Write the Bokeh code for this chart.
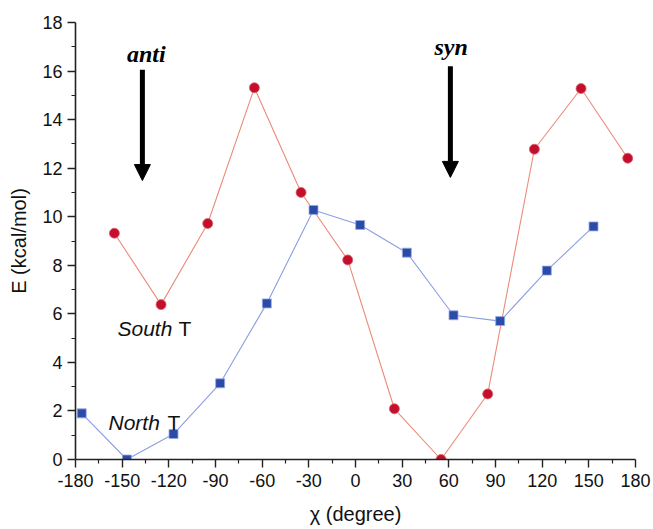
from bokeh.plotting import figure
from bokeh.models import ColumnDataSource, FixedTicker, Arrow, NormalHead
from bokeh.core.properties import value
from bokeh.embed import file_html
from bokeh.resources import INLINE

# ---- data ----
south_chi = [-155, -125, -95, -65, -35, -5, 25, 55, 85, 115, 145, 175]
south_E = [9.32, 6.38, 9.72, 15.31, 11.0, 8.22, 2.09, 0.0, 2.70, 12.78, 15.28, 12.41]
north_chi = [-176, -147, -117, -87, -57, -27, 3, 33, 63, 93, 123, 153]
north_E = [1.90, 0.0, 1.05, 3.14, 6.43, 10.28, 9.66, 8.52, 5.94, 5.70, 7.78, 9.60]

x_ticks = [-180, -150, -120, -90, -60, -30, 0, 30, 60, 90, 120, 150, 180]
x_minor = [-165, -135, -105, -75, -45, -15, 15, 45, 75, 105, 135, 165]
y_ticks = [0, 2, 4, 6, 8, 10, 12, 14, 16, 18]
y_minor = [1, 3, 5, 7, 9, 11, 13, 15, 17]

arrow_chi = [-137, 61]
arrow_top = [16.05, 16.2]
arrow_tip = [11.49, 11.62]
conf_labels = ["anti", "syn"]
conf_chi = [-134.5, 61.5]
conf_E = [16.71, 17.0]

series_names = ["South", "North"]
series_label_chi = [-153, -158.8]
series_label_E = [5.39, 1.51]

p = figure(width=653, height=529, x_range=(-180, 180), y_range=(0, 18),
           output_backend="svg", toolbar_location=None,
           min_border_left=75, min_border_right=18, min_border_top=22, min_border_bottom=70)
p.xgrid.visible = False
p.ygrid.visible = False
p.outline_line_color = None
p.background_fill_color = "white"

p.xaxis.ticker = FixedTicker(ticks=x_ticks, minor_ticks=x_minor)
p.yaxis.ticker = FixedTicker(ticks=y_ticks, minor_ticks=y_minor)
p.xaxis.major_label_overrides = {t: str(t) for t in x_ticks}
p.yaxis.major_label_overrides = {t: str(t) for t in y_ticks}

for ax in (p.xaxis, p.yaxis):
    ax.axis_line_color = "#222222"
    ax.axis_line_width = 1.6
    ax.major_tick_line_color = "#222222"
    ax.minor_tick_line_color = "#222222"
    ax.major_tick_line_width = 1.4
    ax.minor_tick_line_width = 1.2
    ax.major_tick_out = 8
    ax.major_tick_in = 0
    ax.minor_tick_out = 4
    ax.minor_tick_in = 0
    ax.major_label_text_font = "Liberation Sans"
    ax.major_label_text_font_size = "18px"
    ax.major_label_text_color = "#111111"
    ax.axis_label_text_font = "Liberation Sans"
    ax.axis_label_text_font_size = "20px"
    ax.axis_label_text_font_style = "normal"
    ax.axis_label_text_color = "#111111"

p.xaxis.axis_label = "χ (degree)"
p.yaxis.axis_label = "E (kcal/mol)"
p.xaxis.major_label_standoff = 6
p.yaxis.major_label_standoff = 5
p.xaxis.axis_label_standoff = 13
p.yaxis.axis_label_standoff = 9

south = ColumnDataSource(dict(x=south_chi, y=south_E))
north = ColumnDataSource(dict(x=north_chi, y=north_E))

p.line("x", "y", source=south, line_color="#ec8a78", line_width=1.1)
p.line("x", "y", source=north, line_color="#8d9ee2", line_width=1.1)
p.scatter("x", "y", source=south, marker="circle", size=10,
          fill_color="#c40f2c", line_color="#d9606e", line_width=0.8)
p.scatter("x", "y", source=north, marker="square", size=9,
          fill_color="#2a4ca8", line_color="#9aaae6", line_width=0.8)

arrows = ColumnDataSource(dict(x0=arrow_chi, y0=arrow_top, x1=arrow_chi, y1=arrow_tip))
p.add_layout(Arrow(source=arrows, x_start="x0", y_start="y0", x_end="x1", y_end="y1",
                   line_width=5, line_color="black",
                   end=NormalHead(size=16, fill_color="black", line_color="black", line_width=1)))

conf = ColumnDataSource(dict(x=conf_chi, y=conf_E, t=conf_labels))
p.text("x", "y", text="t", source=conf, text_font=value("Liberation Serif"),
       text_font_style="bold italic", text_font_size="24px", text_color="black",
       text_align="center", text_baseline="alphabetic")

names = ColumnDataSource(dict(x=series_label_chi, y=series_label_E, t=series_names,
                              tt=["T", "T"], dx=[61, 59]))
p.text("x", "y", text="t", source=names, text_font=value("Liberation Sans"),
       text_font_style="italic", text_font_size="21px", text_color="#111111",
       text_align="left", text_baseline="alphabetic")
p.text("x", "y", text="tt", source=names, text_font=value("Liberation Sans"),
       text_font_style="normal", text_font_size="21px", text_color="#111111",
       text_align="left", text_baseline="alphabetic", x_offset="dx")

open("out.html", "w").write(file_html(p, INLINE))
